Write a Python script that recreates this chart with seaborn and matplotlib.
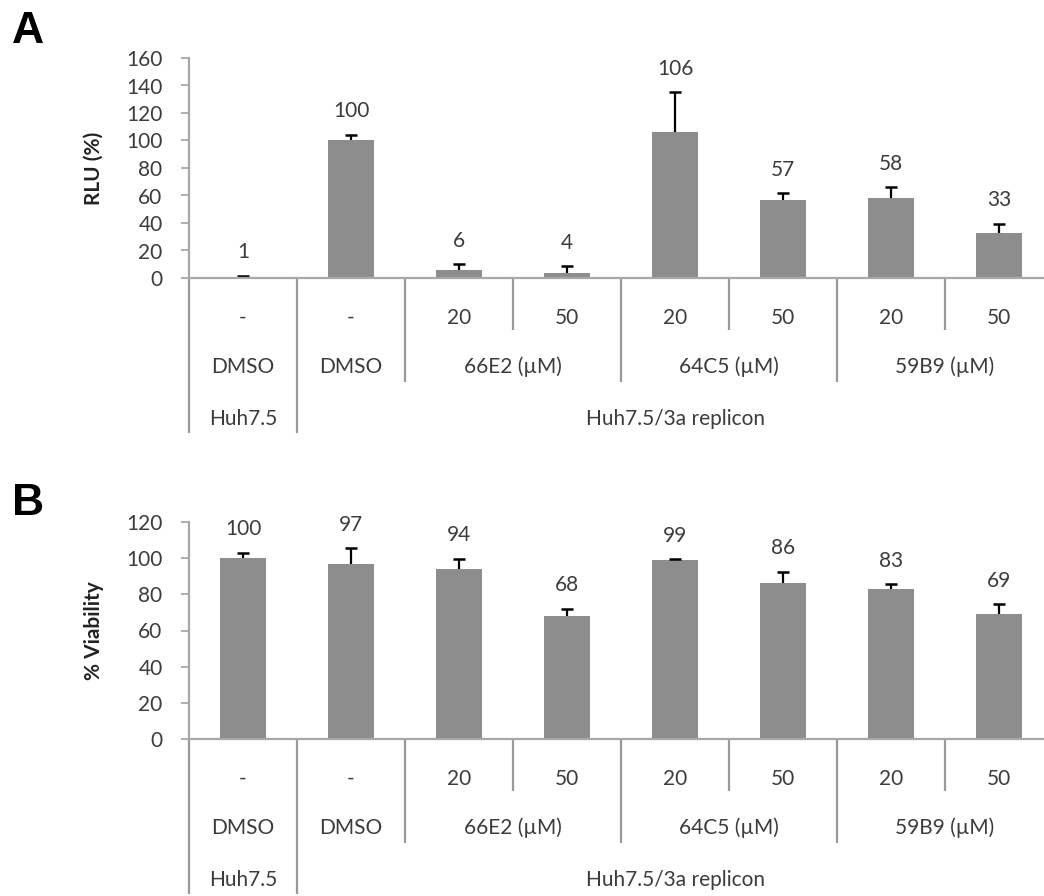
import numpy as np
import pandas as pd
import matplotlib
matplotlib.use("Agg")
import matplotlib.pyplot as plt
import matplotlib.transforms as mtransforms
import seaborn as sns

# ---------------- data ----------------
doses = ["-", "-", "20", "50", "20", "50", "20", "50"]
compound_labels = ["DMSO", "DMSO", "66E2 (µM)", "64C5 (µM)", "59B9 (µM)"]
compound_spans = [1, 1, 2, 2, 2]
cell_labels = ["Huh7.5", "Huh7.5/3a replicon"]
cell_spans = [1, 7]

rlu_values = [1, 100, 6, 4, 106, 57, 58, 33]
rlu_errors = [0.6, 4, 4, 4.5, 29, 4.5, 8, 6.5]
rlu_labels = ["1", "100", "6", "4", "106", "57", "58", "33"]

via_values = [100, 97, 94, 68, 99, 86, 83, 69]
via_errors = [3, 8.5, 5.5, 4, 0.4, 6.5, 2.5, 5.5]
via_labels = ["100", "97", "94", "68", "99", "86", "83", "69"]

# ---------------- style ----------------
sns.set_style("ticks")
plt.rcParams["font.family"] = ["Lato", "DejaVu Sans"]

BAR = "#8d8d8d"
TXT = "#3c3c3c"
SPINE = "#a8a8a8"
LINE = "#9a9a9a"

W, H = 1044, 896
fig = plt.figure(figsize=(W / 100, H / 100), dpi=100)


def px_x(x):
    return x / W


def px_y(y):
    return 1 - y / H


def boundaries_from_spans(spans):
    out, acc = [], 0
    for s in spans:
        acc += s
        out.append(acc)
    return out


def make_panel(top_px, bottom_px, values, errors, labels, ylabel, ymax, letter, letter_base_px):
    left_px = 189
    cat_w = 108
    n = len(values)
    ax = fig.add_axes([px_x(left_px), px_y(bottom_px), n * cat_w / W, (bottom_px - top_px) / H])
    cats = [f"c{i}" for i in range(n)]
    df = pd.DataFrame({"cat": cats, "val": values})
    sns.barplot(data=df, x="cat", y="val", order=cats, color=BAR, saturation=1,
                width=0.42, errorbar=None, ax=ax, linewidth=0, zorder=2)
    xs = np.arange(n)
    vals = np.asarray(values, float)
    tops = vals + np.asarray(errors, float)
    # upper-only error bars (Excel "plus" style)
    ax.vlines(xs, vals, tops, colors="black", lw=1.6, zorder=3)
    ax.hlines(tops, xs - 0.055, xs + 0.055, colors="black", lw=1.8, zorder=3)
    for x, t_y, t in zip(xs, tops, labels):
        ax.annotate(t, (x, t_y), xytext=(0, 17), textcoords="offset points",
                    ha="center", va="center", fontsize=15, color=TXT)
    ax.set_xlim(-0.5, n - 0.5)
    ax.set_ylim(0, ymax)
    ax.set_yticks(np.arange(0, ymax + 1, 20))
    ax.set_xticks([])
    ax.set_xlabel("")
    ax.set_ylabel(ylabel, fontsize=15, fontweight="bold", color="#222222")
    ax.yaxis.set_label_coords((104 - left_px) / (n * cat_w), 0.5)
    ax.tick_params(axis="y", length=6, width=1.3, color=SPINE, pad=13,
                   labelsize=15, labelcolor=TXT)
    for s in ["top", "right"]:
        ax.spines[s].set_visible(False)
    for s in ["left", "bottom"]:
        ax.spines[s].set_color(SPINE)
        ax.spines[s].set_linewidth(1.6)
        ax.spines[s].set_zorder(4)

    # ----- category table below the axis -----
    trans = mtransforms.blended_transform_factory(ax.transData, fig.transFigure)
    row_off = [40, 89, 141]
    line_end = [52, 104, 155]

    def ty(off):
        return px_y(bottom_px + off)

    for i, d in enumerate(doses):
        ax.text(i, ty(row_off[0]), d, transform=trans, ha="center", va="center",
                fontsize=15, color=TXT, clip_on=False)
    comp_b = boundaries_from_spans(compound_spans)
    start = 0
    for lab, end in zip(compound_labels, comp_b):
        ax.text((start + end - 1) / 2, ty(row_off[1]), lab, transform=trans, ha="center",
                va="center", fontsize=15, color=TXT, clip_on=False)
        start = end
    cell_b = boundaries_from_spans(cell_spans)
    start = 0
    for lab, end in zip(cell_labels, cell_b):
        ax.text((start + end - 1) / 2, ty(row_off[2]), lab, transform=trans, ha="center",
                va="center", fontsize=15, color=TXT, clip_on=False)
        start = end

    # divider lines: length depends on the deepest level at which a boundary occurs
    for b in range(0, n):
        if b == 0 or b in cell_b:
            level = 2
        elif b in comp_b:
            level = 1
        else:
            level = 0
        xb = b - 0.5
        ax.plot([xb, xb], [ty(0), ty(line_end[level])], transform=trans,
                color=LINE, lw=1.6, clip_on=False, solid_capstyle="butt")

    fig.text(px_x(12), px_y(letter_base_px), letter, fontsize=32, fontweight="bold",
             family="Liberation Sans", ha="left", va="baseline", color="black")
    return ax


make_panel(58, 278, rlu_values, rlu_errors, rlu_labels, "RLU (%)", 160, "A", 43)
make_panel(522, 739, via_values, via_errors, via_labels, "% Viability", 120, "B", 515)

fig.savefig("out.png", dpi=100, facecolor="white")
